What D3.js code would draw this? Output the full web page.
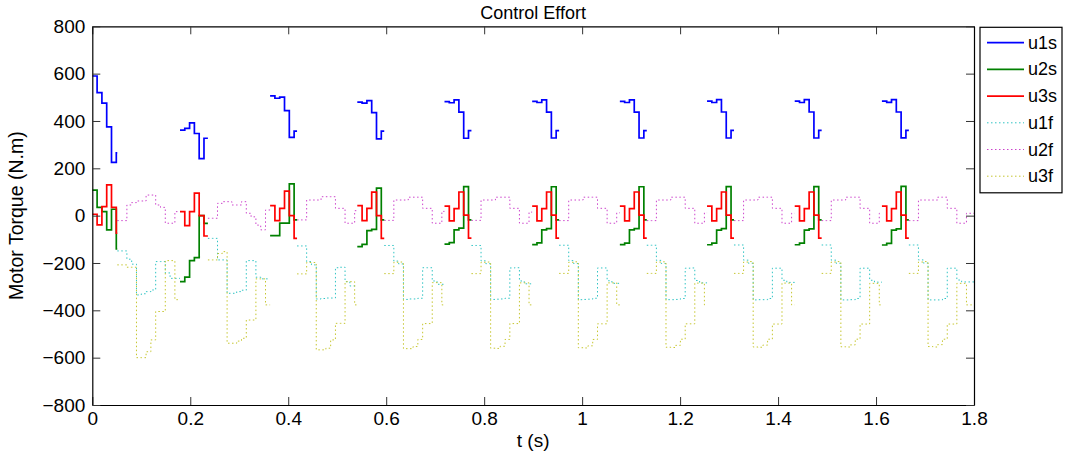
<!DOCTYPE html>
<html>
<head>
<meta charset="utf-8">
<script src="https://cdn.jsdelivr.net/npm/d3@7"></script>
<style>
  body { margin: 0; background: #fff; }
  svg { font-family: "Liberation Sans", Arial, sans-serif; }
</style>
</head>
<body>
<svg id="chart" width="1065" height="460"></svg>
<script>
// stance phases: start / end time of each one (s)
const stanceStart = [0, 0.179, 0.363, 0.541, 0.719, 0.898, 1.077, 1.255, 1.434, 1.612]
const stanceEnd = [0.051, 0.236, 0.418, 0.596, 0.774, 0.953, 1.132, 1.310, 1.489, 1.667]
const tEnd = 1.8
const dt = 0.0098 // controller sample time

// stance torques, one row per stance
const u1s = [
	[590, 520, 475, 375, 225, 265],
	[361, 369, 392, 347, 241, 327],
	[506, 496, 501, 444, 331, 357],
	[480, 475, 486, 435, 324, 357],
	[482, 477, 489, 437, 327, 359],
	[483, 478, 489, 437, 328, 359],
	[483, 478, 489, 437, 328, 359],
	[484, 478, 490, 438, 328, 360],
	[484, 478, 490, 438, 328, 360],
	[484, 479, 490, 438, 329, 360]
]
const u2s = [
	[108, 35, 17, -60, 27, -141],
	[-279, -260, -190, -177, 0, -33],
	[-84, -84, -32, -32, 134, -18],
	[-131, -121, -63, -58, 116, -18],
	[-120, -114, -60, -53, 123, -18],
	[-122, -115, -60, -55, 122, -18],
	[-122, -116, -60, -55, 122, -18],
	[-123, -116, -61, -55, 123, -18],
	[-123, -116, -61, -56, 123, -18],
	[-124, -117, -61, -56, 124, -18]
]
const u3s = [
	[6, -39, 38, 130, 35, -74],
	[17, -42, 17, 95, 0, -86],
	[42, -21, 31, 104, 0, -96],
	[42, -21, 31, 99, 0, -96],
	[40, -22, 30, 100, 2, -95],
	[40, -22, 30, 100, 2, -95],
	[40, -22, 30, 100, 2, -95],
	[40, -22, 30, 100, 2, -95],
	[40, -22, 30, 100, 2, -95],
	[40, -22, 30, 100, 2, -95]
]

// flight torques, one row per flight (after each stance)
const u1f = [
	[-149, -149, -184, -205, -335, -330, -321, -314, -194, -194, -242, -265, -265],
	[-96, -96, -187, -187, -328, -328, -321, -315, -190, -190, -260, -267, -267],
	[-128, -128, -194, -208, -352, -350, -348, -348, -220, -218, -279, -297, -297],
	[-126, -126, -192, -204, -354, -352, -352, -349, -220, -220, -276, -290, -290],
	[-126, -126, -191, -203, -354, -353, -352, -349, -221, -220, -276, -288, -288],
	[-125, -125, -190, -202, -355, -354, -353, -349, -221, -221, -275, -286, -286],
	[-125, -125, -189, -202, -355, -355, -354, -350, -222, -221, -274, -284, -284],
	[-124, -124, -188, -201, -356, -355, -355, -350, -222, -222, -273, -282, -282],
	[-124, -124, -188, -201, -356, -356, -355, -350, -222, -222, -273, -281, -281],
	[-124, -124, -187, -200, -356, -356, -356, -350, -222, -222, -272, -280, -280, -280]
]
const u2f = [
	[-21, -21, 45, 55, 62, 62, 87, 87, 45, 35, -32, -32, 17],
	[-11, -11, 52, 59, 59, 45, 45, 59, 10, -5, -40, -60, 24],
	[-18, -18, 66, 66, 66, 80, 80, 80, 31, 31, -32, -32, 21],
	[-20, -20, 66, 66, 66, 78, 78, 78, 31, 31, -32, -32, 18],
	[-20, -20, 66, 66, 66, 78, 78, 78, 31, 31, -32, -32, 15],
	[-21, -21, 66, 66, 66, 78, 78, 78, 31, 31, -32, -32, 12],
	[-21, -21, 66, 66, 66, 78, 78, 78, 31, 31, -32, -32, 12],
	[-21, -21, 66, 66, 66, 78, 78, 78, 31, 31, -32, -32, 10],
	[-21, -21, 66, 66, 66, 78, 78, 78, 31, 31, -32, -32, 10],
	[-21, -21, 66, 66, 66, 66, 78, 78, 31, 31, -32, -32, 10, 10]
]
const u3f = [
	[-208, -208, -218, -218, -600, -600, -575, -525, -405, -405, -190, -190, -355],
	[-187, -187, -160, -152, -539, -539, -530, -518, -441, -441, -267, -267, -377],
	[-246, -246, -198, -198, -567, -567, -560, -525, -455, -455, -279, -279, -377],
	[-245, -245, -197, -196, -562, -562, -553, -523, -456, -456, -283, -283, -377],
	[-245, -245, -197, -196, -560, -561, -552, -523, -456, -456, -284, -284, -377],
	[-244, -244, -197, -195, -558, -559, -550, -523, -457, -457, -284, -284, -377],
	[-244, -244, -196, -195, -556, -557, -548, -522, -457, -457, -285, -285, -377],
	[-244, -244, -196, -194, -555, -556, -547, -522, -458, -458, -285, -285, -377],
	[-244, -244, -196, -194, -554, -555, -546, -522, -458, -458, -286, -286, -377],
	[-244, -244, -196, -194, -553, -555, -545, -522, -458, -458, -286, -286, -377, -377]
]

const xTicks = [0, 0.2, 0.4, 0.6, 0.8, 1, 1.2, 1.4, 1.6, 1.8]
const yTicks = [-800, -600, -400, -200, 0, 200, 400, 600, 800]
const names = ["u1s", "u2s", "u3s", "u1f", "u2f", "u3f"]
const colors = ["#0000ff", "#008000", "#ff0000", "#30c4c4", "#cc44cc", "#c6c630"]

var margin = ({top: 26.3, right: 91, bottom: 55, left: 92.3})
var width = 1065
var height = 460

var x = d3.scaleLinear()
	.domain([0, tEnd])
	.range([margin.left, width - margin.right])

var y = d3.scaleLinear()
	.domain([-800, 800])
	.range([height - margin.bottom, margin.top])

let svg = d3.select("#chart")

svg.append("clipPath").attr("id", "clip")
	.append("rect")
	.attr("x", x(0)).attr("y", y(800))
	.attr("width", x(tEnd) - x(0)).attr("height", y(-800) - y(800))

// turn a row of samples into step points, held until `end`
function steps(vals, start, end) {
	var pts = vals.map((v, k) => [start + k * dt, v])
	pts.push([end, vals[vals.length - 1]])
	return pts
}

var line = d3.line()
	.x(d => x(d[0]))
	.y(d => y(d[1]))
	.curve(d3.curveStepAfter)

var plot = svg.append("g").attr("clip-path", "url(#clip)")

var flightEnd = stanceStart.slice(1).concat([tEnd])

var dotted = [u1f, u2f, u3f]
dotted.forEach((rows, j) => {
	rows.forEach((vals, i) => {
		plot.append("path")
			.attr("fill", "none")
			.attr("stroke", colors[j + 3])
			.attr("stroke-width", 1)
			.attr("stroke-dasharray", "1.5,2.5")
			.attr("d", line(steps(vals, stanceEnd[i], flightEnd[i])))
	})
})

var solid = [u1s, u2s, u3s]
solid.forEach((rows, j) => {
	rows.forEach((vals, i) => {
		plot.append("path")
			.attr("fill", "none")
			.attr("stroke", colors[j])
			.attr("stroke-width", 1.7)
			.attr("d", line(steps(vals, stanceStart[i], stanceEnd[i])))
	})
})

// axes, ticks inward on all four sides
var fmt = d => d3.format("~g")(d).replace("-", "\u2212")

svg.append("g")
	.attr("transform", `translate(0,${y(-800)})`)
	.call(d3.axisBottom(x).tickValues(xTicks).tickSize(-8).tickSizeOuter(0).tickPadding(7).tickFormat(fmt))
svg.append("g")
	.attr("transform", `translate(0,${y(800)})`)
	.call(d3.axisTop(x).tickValues(xTicks).tickSize(-8).tickSizeOuter(0).tickFormat(""))
svg.append("g")
	.attr("transform", `translate(${x(0)},0)`)
	.call(d3.axisLeft(y).tickValues(yTicks).tickSize(-8).tickSizeOuter(0).tickPadding(7).tickFormat(fmt))
svg.append("g")
	.attr("transform", `translate(${x(tEnd)},0)`)
	.call(d3.axisRight(y).tickValues(yTicks).tickSize(-8).tickSizeOuter(0).tickFormat(""))

svg.selectAll(".tick text")
	.attr("font-size", 19)
	.attr("font-family", "Liberation Sans, Arial, sans-serif")
	.attr("fill", "#000")
svg.selectAll(".domain").attr("stroke", "#000").attr("stroke-width", 1.2)
svg.selectAll(".tick line").attr("stroke", "#333")

svg.append("text")
	.attr("x", (x(0) + x(tEnd)) / 2)
	.attr("y", 19)
	.attr("text-anchor", "middle")
	.attr("font-size", 18)
	.text("Control Effort")

svg.append("text")
	.attr("x", (x(0) + x(tEnd)) / 2)
	.attr("y", 447)
	.attr("text-anchor", "middle")
	.attr("font-size", 19)
	.text("t (s)")

svg.append("text")
	.attr("transform", `translate(23,${(y(800) + y(-800)) / 2}) rotate(-90)`)
	.attr("text-anchor", "middle")
	.attr("font-size", 19.5)
	.text("Motor Torque (N.m)")

// legend
var legend = svg.append("g")
legend.append("rect")
	.attr("x", 980).attr("y", 27.3)
	.attr("width", 82).attr("height", 165.5)
	.attr("fill", "#fff").attr("stroke", "#000").attr("stroke-width", 1.2)

names.forEach((name, i) => {
	var ly = 42.7 + i * 26.7
	legend.append("line")
		.attr("x1", 987).attr("x2", 1024)
		.attr("y1", ly).attr("y2", ly)
		.attr("stroke", colors[i])
		.attr("stroke-width", i < 3 ? 1.7 : 1)
		.attr("stroke-dasharray", i < 3 ? null : "1.5,2.5")
	legend.append("text")
		.attr("x", 1028).attr("y", ly + 6)
		.attr("font-size", 18)
		.text(name)
})
</script>
</body>
</html>
